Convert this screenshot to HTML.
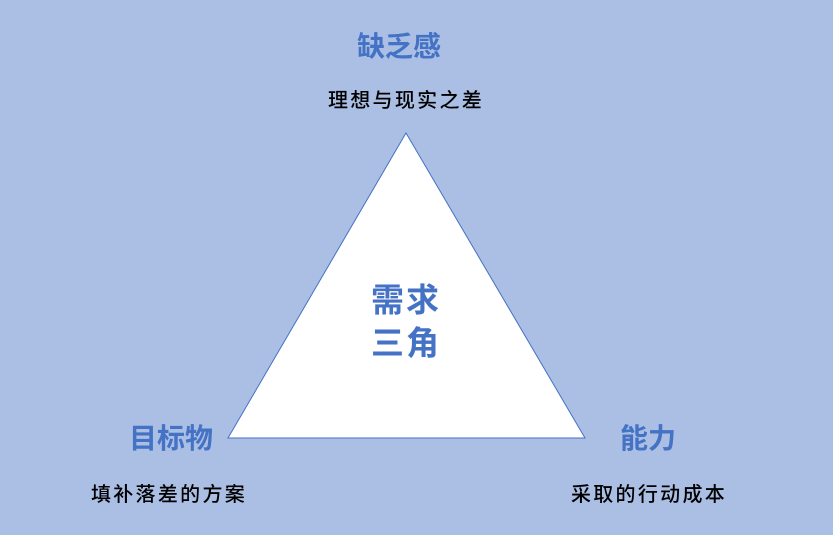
<!DOCTYPE html>
<html><head><meta charset="utf-8"><style>
html,body{margin:0;padding:0}
body{width:833px;height:535px;background:#abbfe5;position:relative;overflow:hidden;font-family:"Liberation Sans","Noto Sans CJK SC",sans-serif}
.t{position:absolute;white-space:nowrap;transform:translate(-50%,-50%);line-height:1}
.h{color:#4472c4;font-size:28px;font-weight:bold}
.s{color:#000;font-size:20px;letter-spacing:2.3px;font-weight:500}
</style></head><body>
<svg width="833" height="535" style="position:absolute;left:0;top:0">
<polygon points="406,133 228,438 585,438" fill="#fff" stroke="#4472c4" stroke-width="1"/>
</svg>
<div class="t h" style="left:399px;top:47px">缺乏感</div>
<div class="t s" style="left:406px;top:101px">理想与现实之差</div>
<div class="t h" style="left:171px;top:439px">目标物</div>
<div class="t h" style="left:648px;top:439px">能力</div>
<div class="t s" style="left:169px;top:495px">填补落差的方案</div>
<div class="t s" style="left:649px;top:495px">采取的行动成本</div>
<div class="t h" style="left:406px;top:300px;font-size:33px;letter-spacing:2px">需求</div>
<div class="t h" style="left:406px;top:343px;font-size:33px;letter-spacing:2px">三角</div>
</body></html>
